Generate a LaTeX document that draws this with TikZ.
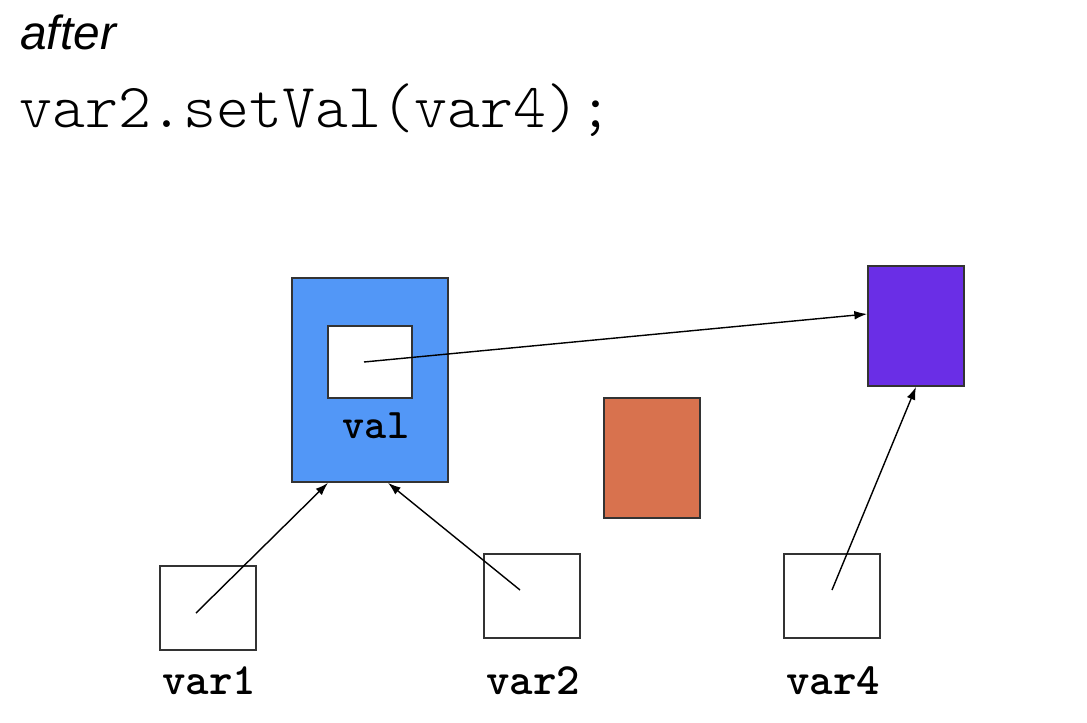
\documentclass[tikz,border=0pt]{standalone}
\usepackage{fontspec}
\setmainfont{Liberation Sans}
\usetikzlibrary{arrows.meta}
\definecolor{valblue}{RGB}{82,151,247}
\definecolor{valpurple}{RGB}{106,46,230}
\definecolor{valorange}{RGB}{216,114,78}
\definecolor{edgegray}{RGB}{51,51,51}
\tikzset{obj/.style={draw=edgegray, line width=1.2pt, inner sep=0pt,
    minimum width=2.4cm, minimum height=3cm},
  varbox/.style={obj, minimum height=2.1cm},
  ref/.style={-{Latex[length=3.2mm,width=2.2mm]}, line width=1pt},
  varname/.style={anchor=base, inner sep=0pt, font=\ttfamily\bfseries\fontsize{31.8}{34}\selectfont}
}

\begin{document}
\begin{tikzpicture}[x=0.025cm, y=-0.025cm]
      \useasboundingbox (0,0) rectangle (1087,723);
      \node[anchor=base west, inner sep=0pt, font=\itshape\fontsize{34}{36}\selectfont] (title) at (20,50) {after};
      \node[anchor=base west, inner sep=0pt, font=\ttfamily\fontseries{l}\fontsize{44.6}{46}\selectfont] (code) at (19,127) {var2.setVal(var4);};
      % objects
      \node[obj, fill=valblue, minimum width=3.9cm, minimum height=5.1cm] (objA) at (370,380) {};
      \node[obj, fill=white, minimum width=2.1cm, minimum height=1.8cm] (valbox) at (370,362) {};
      \node[varname, font=\ttfamily\bfseries\fontsize{30}{32}\selectfont] (vallabel) at (376,438) {val};
      \node[obj, fill=valpurple] (objB) at (916,326) {};
      \node[obj, fill=valorange] (objC) at (652,458) {};
      % variables
      \node[varbox] (var1box) at (208,608) {};
      \node[varbox] (var2box) at (532,596) {};
      \node[varbox] (var4box) at (832,596) {};
      \node[varname] (var1) at (209,694) {var1};
      \node[varname] (var2) at (533,694) {var2};
      \node[varname] (var4) at (833,694) {var4};
      % references
      \coordinate (s1) at (196,613);
      \coordinate (s2) at (520,590);
      \coordinate (s4) at (832,590);
      \coordinate (sv) at (364,362);
      \draw[ref] (s1) -- ([xshift=-1.05cm]objA.south);
      \draw[ref] (s2) -- ([xshift=0.45cm]objA.south);
      \draw[ref] (s4) -- (objB.south);
      \draw[ref] (sv) -- ([yshift=0.3cm]objB.west);
    \end{tikzpicture}
\end{document}
